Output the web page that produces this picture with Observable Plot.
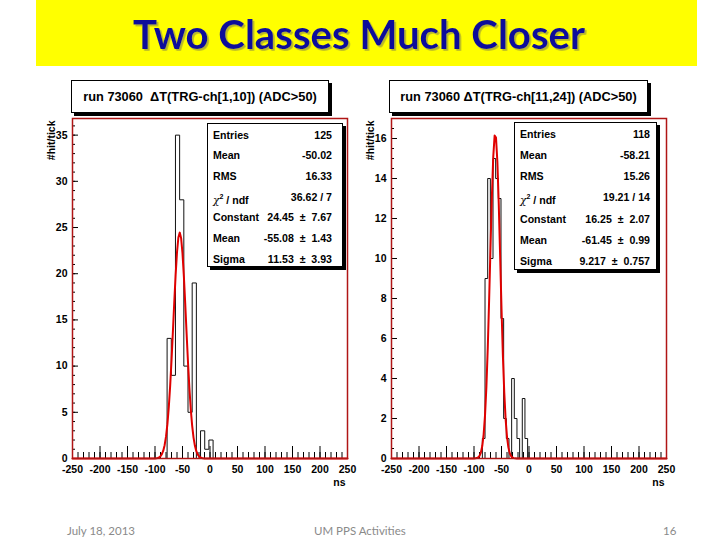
<!DOCTYPE html>
<html><head><meta charset="utf-8">
<script src="https://cdn.jsdelivr.net/npm/d3@7"></script>
<script src="https://cdn.jsdelivr.net/npm/@observablehq/plot@0.6"></script>
<style>
body{margin:0;background:#fff;}
#slide{position:relative;width:720px;height:540px;overflow:hidden;background:#fff;font-family:"Liberation Sans",Arial,sans-serif;}
.abs{position:absolute;}
#titlebar{left:36px;top:0;width:661px;height:66px;background:#ffff00;}
.pbox{position:absolute;background:#fff;border:1px solid #000;box-shadow:3px 3px 0 #000;box-sizing:border-box;
  font:bold 12.8px "Liberation Sans",Arial,sans-serif;color:#000;display:flex;align-items:center;justify-content:center;white-space:pre;}
.sbox{position:absolute;background:#fff;border:1px solid #000;box-shadow:3px 3px 0 #000;box-sizing:border-box;
  font:bold 10.6px "Liberation Sans",Arial,sans-serif;color:#000;}
.srow{position:absolute;left:0;right:0;height:14px;line-height:14px;}
.srow .l{position:absolute;left:5px;}
.srow .v{position:absolute;white-space:pre;}
.foot{position:absolute;top:524px;font:11.5px Lato,"Open Sans",sans-serif;color:#8a8a8a;white-space:nowrap;}
.chi{font-weight:normal;font-family:"DejaVu Serif",serif;font-style:italic;}
sup{font-size:7px;}
</style></head><body>
<div id="slide">
  <div id="titlebar" class="abs"></div>
  <svg class="abs" style="left:0;top:0" width="720" height="70">
    <defs><filter id="sh" x="-5%" y="-20%" width="110%" height="140%"><feDropShadow dx="1.8" dy="1.8" stdDeviation="0.7" flood-color="#7a7a50" flood-opacity="0.55"/></filter></defs>
    <text id="maintitle" x="359" y="49" text-anchor="middle" textLength="452" lengthAdjust="spacingAndGlyphs" font-family="Lato" font-weight="bold" font-size="40" fill="#10109a" filter="url(#sh)">Two Classes Much Closer</text>
  </svg>
  <div id="left" class="abs" style="left:40px;top:75px"></div>
  <div id="right" class="abs" style="left:360px;top:75px"></div>
  <div class="foot" style="left:67px">July 18, 2013</div>
  <div class="foot" style="left:314px">UM PPS Activities</div>
  <div class="foot" style="left:663px">16</div>
</div>
<script>
// ---- data ----
const xMajorTicks = [-250,-200,-150,-100,-50,0,50,100,150,200,250];
const leftTitle = "run 73060  \u0394T(TRG-ch[1,10]) (ADC>50)";
const rightTitle = "run 73060 \u0394T(TRG-ch[11,24]) (ADC>50)";

const leftBinStart = -78, leftBinWidth = 7.6;
const leftCounts = [13, 9, 35, 28, 10, 5, 19, 0, 3, 1, 2];
const leftYTicks = [0,5,10,15,20,25,30,35];
const leftFit = {constant: 24.45, mean: -55.08, sigma: 11.53};
const leftStatLabels = ["Entries","Mean","RMS","CHI","Constant","Mean","Sigma"];
const leftStatValues = ["125","-50.02","16.33","36.62 / 7","24.45  \u00b1  7.67","-55.08  \u00b1  1.43","11.53  \u00b1  3.93"];

const rightBinStart = -84.8, rightBinWidth = 4.84;
const rightCounts = [1, 9, 14, 10, 15, 14, 13, 7, 2, 1, 0, 4, 2, 1, 0, 3, 1];
const rightYTicks = [0,2,4,6,8,10,12,14,16];
const rightFit = {constant: 16.25, mean: -61.45, sigma: 9.217};
const rightStatLabels = ["Entries","Mean","RMS","CHI","Constant","Mean","Sigma"];
const rightStatValues = ["118","-58.21","15.26","19.21 / 14","16.25  \u00b1  2.07","-61.45  \u00b1  0.99","9.217  \u00b1  0.757"];

function panel({counts, binStart, binWidth, fit, yMax, yTicks, yMinorStep, mL, mR}) {
  const W = 320, H = 420, mT = 43, mB = 37;
  const fw = W - mL - mR, fh = H - mT - mB;
  const n = counts.length;
  const edge = i => binStart + i * binWidth;
  const steps = [{x: edge(0), y: 0}];
  counts.forEach((c, i) => { steps.push({x: edge(i), y: c}); steps.push({x: edge(i + 1), y: c}); });
  steps.push({x: edge(n), y: 0});
  const gauss = d3.range(-250, 250.01, 2.5).map(x => ({x, y: fit.constant * Math.exp(-0.5 * ((x - fit.mean) / fit.sigma) ** 2)}));
  const xMinor = d3.range(-250, 250.01, 10);
  const yMinor = d3.range(0, yMax, yMinorStep);
  return Plot.plot({
    width: W, height: H, marginLeft: mL, marginRight: mR, marginTop: mT, marginBottom: mB,
    x: {domain: [-250, 250]},
    y: {domain: [0, yMax]},
    style: {fontFamily: "Liberation Sans, Arial, sans-serif", fontWeight: "bold", fontSize: "10.5px", color: "#000", background: "transparent", overflow: "visible"},
    marks: [
      Plot.ruleX(xMinor, {x: d => d, insetTop: fh - 6, stroke: "#000", strokeWidth: 1}),
      Plot.ruleX(xMajorTicks, {x: d => d, insetTop: fh - 12, stroke: "#000", strokeWidth: 1}),
      Plot.ruleY(yMinor, {y: d => d, insetRight: fw - 3, stroke: "#000", strokeWidth: 1}),
      Plot.ruleY(yTicks, {y: d => d, insetRight: fw - 6, stroke: "#000", strokeWidth: 1}),
      Plot.line(steps, {x: "x", y: "y", stroke: "#111", strokeWidth: 1}),
      Plot.line(gauss, {x: "x", y: "y", stroke: "#e00000", strokeWidth: 2}),
      Plot.frame({stroke: "#b01515", strokeWidth: 1.5}),
      Plot.axisX({ticks: xMajorTicks, tickSize: 0, tickPadding: 7, label: null, tickFormat: d => String(d)}),
      Plot.axisY({ticks: yTicks, tickSize: 0, tickPadding: 5, label: null, tickFormat: d => String(d)}),
      Plot.text(["#hit/tick"], {frameAnchor: "top-left", text: d => d, rotate: -90, textAnchor: "end", dx: -25, dy: 2, fontSize: 10.5, fontWeight: "bold"}),
      Plot.text(["ns"], {frameAnchor: "bottom-right", text: d => d, textAnchor: "end", dy: 27, dx: -2, fontSize: 10.5, fontWeight: "bold"})
    ]
  });
}

document.getElementById("left").append(panel({counts: leftCounts, binStart: leftBinStart, binWidth: leftBinWidth, fit: leftFit, yMax: 36.8, yTicks: leftYTicks, yMinorStep: 1, mL: 32, mR: 13}));
document.getElementById("right").append(panel({counts: rightCounts, binStart: rightBinStart, binWidth: rightBinWidth, fit: rightFit, yMax: 17.0, yTicks: rightYTicks, yMinorStep: 0.5, mL: 31, mR: 14}));

const slide = document.getElementById("slide");
function titleBox(text, left, top, w, h) {
  const d = document.createElement("div");
  d.className = "pbox";
  Object.assign(d.style, {left: left + "px", top: top + "px", width: w + "px", height: h + "px"});
  d.textContent = text;
  slide.append(d);
}
titleBox(leftTitle, 71, 80, 258, 33);
titleBox(rightTitle, 389, 80, 259, 33);

function statBox(labels, values, left, top, w, h, firstRow, rowStep, valRight) {
  const b = document.createElement("div");
  b.className = "sbox";
  Object.assign(b.style, {left: left + "px", top: top + "px", width: w + "px", height: h + "px"});
  labels.forEach((lab, i) => {
    const r = document.createElement("div");
    r.className = "srow";
    r.style.top = (firstRow + i * rowStep - 7) + "px";
    const l = document.createElement("span");
    l.className = "l";
    if (lab === "CHI") l.innerHTML = '<span class="chi">\u03c7</span><sup>2</sup> / ndf';
    else l.textContent = lab;
    const v = document.createElement("span");
    v.className = "v";
    v.style.right = valRight + "px";
    v.textContent = values[i];
    r.append(l, v);
    b.append(r);
  });
  slide.append(b);
}
statBox(leftStatLabels, leftStatValues, 207, 123, 136, 144, 10.5, 20.7, 10);
statBox(rightStatLabels, rightStatValues, 514, 122, 143, 148, 10.8, 21.2, 6);
</script>
</body></html>
